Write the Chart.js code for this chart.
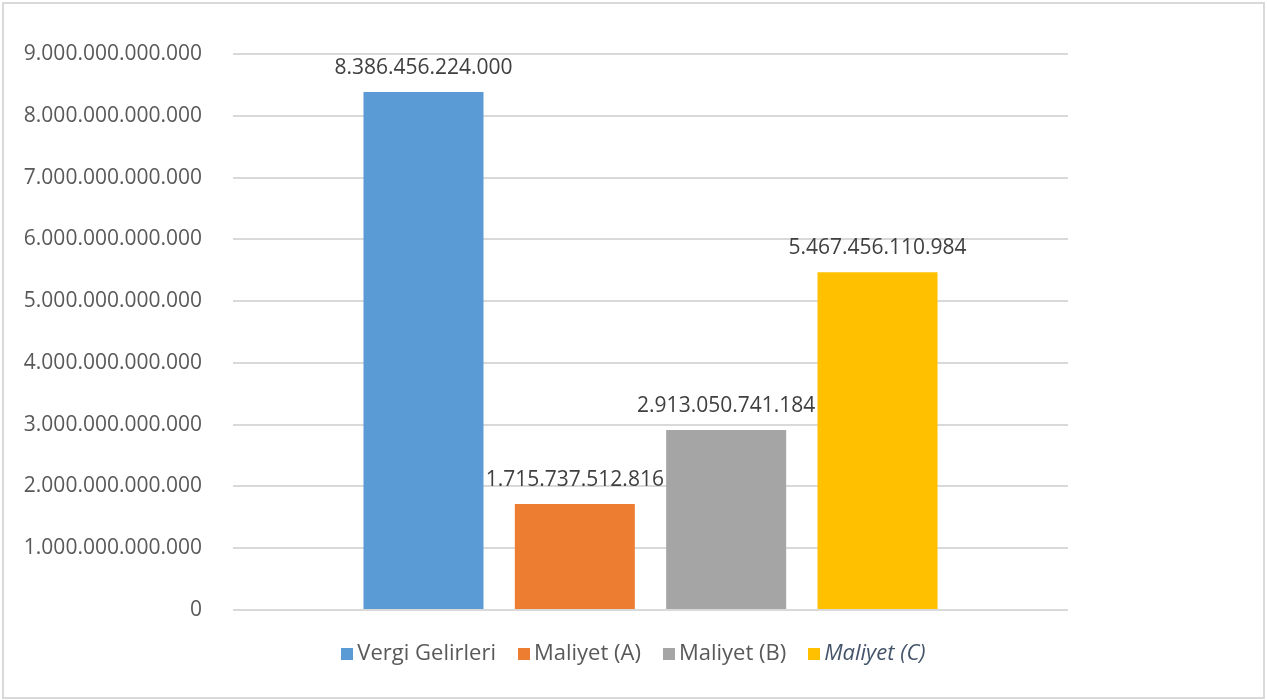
<!DOCTYPE html>
<html><head><meta charset="utf-8">
<script src="https://cdn.jsdelivr.net/npm/chart.js@4.4.1/dist/chart.umd.min.js"></script>
<style>
html,body{margin:0;padding:0;background:#fff;}
#wrap{position:absolute;left:0;top:0;width:1267px;height:700px;}
#frame{position:absolute;left:2px;top:2px;width:1259px;height:693px;border:2px solid #d9d9d9;}
#c{position:absolute;left:0;top:0;}
#legend{position:absolute;left:0;top:636px;width:1267px;text-align:center;font-family:"Open Sans",sans-serif;font-size:22px;line-height:30px;color:#595959;white-space:nowrap;}
#legend span.item{display:inline-block;margin:0 11px;}
#legend span.sw{display:inline-block;width:12px;height:12px;margin-right:4px;vertical-align:0px;}
</style></head><body>
<div id="wrap"><div id="frame"></div><canvas id="c" width="1267" height="700"></canvas><div id="legend"></div></div>
<script>
const categories = [''];
const seriesNames = ['Vergi Gelirleri','Maliyet (A)','Maliyet (B)','Maliyet (C)'];
const vergiGelirleri = [8386456224000];
const maliyetA = [1715737512816];
const maliyetB = [2913050741184];
const maliyetC = [5467456110984];
const yTicks = [0,1e12,2e12,3e12,4e12,5e12,6e12,7e12,8e12,9e12];
const colors = ['#5B9BD5','#ED7D31','#A5A5A5','#FFC000'];

function trFmt(v){
  const s = Math.round(v).toString();
  return s.replace(/\B(?=(\d{3})+(?!\d))/g,'.');
}
const FONT = '"Open Sans", sans-serif';

const labelPlugin = {
  id:'barLabels',
  afterDatasetsDraw(chart){
    const ctx = chart.ctx;
    ctx.save();
    ctx.font = '21px ' + FONT;
    ctx.fillStyle = '#404040';
    ctx.textAlign = 'center';
    ctx.textBaseline = 'middle';
    chart.data.datasets.forEach((ds,i)=>{
      const meta = chart.getDatasetMeta(i);
      meta.data.forEach((bar,j)=>{
        ctx.fillText(trFmt(ds.data[j]), bar.x, bar.y - 24);
      });
    });
    ctx.restore();
  }
};

const dataArrays = [vergiGelirleri, maliyetA, maliyetB, maliyetC];
new Chart(document.getElementById('c'),{
  type:'bar',
  data:{
    labels:categories,
    datasets:dataArrays.map((d,i)=>({label:seriesNames[i],data:d,backgroundColor:colors[i],borderWidth:0}))
  },
  options:{
    responsive:false,
    animation:false,
    devicePixelRatio:1,
    layout:{padding:{left:0,right:199,top:54,bottom:90}},
    datasets:{bar:{categoryPercentage:0.725,barPercentage:0.793}},
    plugins:{legend:{display:false},tooltip:{enabled:false}},
    scales:{
      x:{display:false},
      y:{
        min:0,max:9e12,
        afterFit(s){s.width=233;},
        afterBuildTicks(s){s.ticks = yTicks.map(v=>({value:v}));},
        ticks:{padding:31,color:'#595959',font:{family:FONT,size:21},callback:(v)=>trFmt(v)},
        grid:{color:'#d9d9d9',lineWidth:2,drawTicks:false},
        border:{display:false}
      }
    }
  },
  plugins:[labelPlugin]
});

const lg = document.getElementById('legend');
seriesNames.forEach((n,i)=>{
  const it = document.createElement('span'); it.className='item';
  const sw = document.createElement('span'); sw.className='sw'; sw.style.background=colors[i];
  const tx = document.createElement('span'); tx.textContent=n;
  if(i===3){tx.style.fontStyle='italic';tx.style.color='#44546A';}
  it.appendChild(sw); it.appendChild(tx); lg.appendChild(it);
});
</script>
</body></html>
